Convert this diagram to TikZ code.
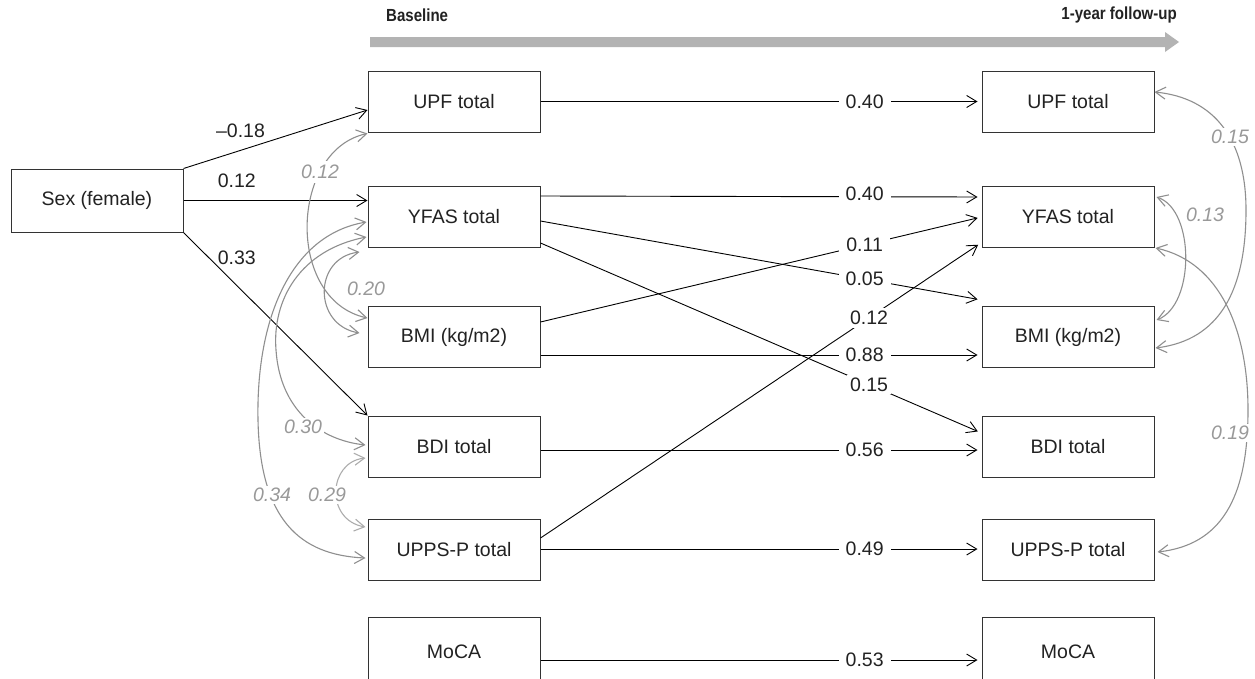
\documentclass[tikz,border=0pt]{standalone}
\usepackage{fontspec}
\setmainfont{Liberation Sans}
\newfontfamily\headfont[FakeStretch=0.86]{Liberation Sans}
\usetikzlibrary{arrows.meta,calc}
\definecolor{covc}{HTML}{8F8F8F}
\definecolor{covlc}{HTML}{ADADAD}
\definecolor{covtxt}{HTML}{999999}
\definecolor{boxc}{HTML}{333333}
\definecolor{barc}{HTML}{B3B3B3}
\definecolor{txtc}{HTML}{222222}
\begin{document}
\begin{tikzpicture}[x=1pt,y=-1pt,
  var/.style={draw=boxc, line width=1.0pt, minimum width=172pt, minimum height=61pt, inner sep=0pt,
    font=\fontsize{19.5}{23}\selectfont, text=txtc},
  regarrow/.style={draw=black, line width=0.9pt, -{Straight Barb[length=10pt,width=12pt]}},
  covarrow/.style={draw=covc, line width=1.1pt, {Straight Barb[length=10pt,width=12pt]}-{Straight Barb[length=10pt,width=12pt]}},
  coeff/.style={font=\fontsize{19.5}{23}\selectfont, text=txtc, inner sep=1pt},
  midcoeff/.style={coeff, fill=white, inner xsep=7pt, inner ysep=3pt},
  covlbl/.style={font=\fontsize{19.5}{23}\selectfont\itshape, text=covtxt, fill=white, inner sep=2pt},
  head/.style={font=\headfont\fontsize{17.5}{20}\selectfont\bfseries, text=txtc, inner sep=0pt}
]
\clip (0,0) rectangle (1255,678);
\fill[white] (0,0) rectangle (1255,678);

% time bar
\fill[barc] (370,37) -- (1165,37) -- (1165,32) -- (1179,42) -- (1165,52) -- (1165,47) -- (370,47) -- cycle;
\node[head, anchor=west] (base) at (386,15) {Baseline};
\node[head, anchor=east] (fup) at (1177,15) {1-year follow-up};

% nodes
\node[var, minimum height=63pt] (sex) at (97,200.5) {Sex (female)};
\node[var] (upfL) at (454,101.5) {UPF total};
\node[var] (yfasL) at (454,216.5) {YFAS total};
\node[var] (bmiL) at (454,337) {BMI (kg/m2)};
\node[var] (bdiL) at (454,446.5) {BDI total};
\node[var] (uppsL) at (454,550) {UPPS-P total};
\node[var, minimum height=70pt] (mocaL) at (454,652) {MoCA};
\node[var] (upfR) at (1068,101.5) {UPF total};
\node[var] (yfasR) at (1068,216.5) {YFAS total};
\node[var] (bmiR) at (1068,337) {BMI (kg/m2)};
\node[var] (bdiR) at (1068,446.5) {BDI total};
\node[var] (uppsR) at (1068,550) {UPPS-P total};
\node[var, minimum height=70pt] (mocaR) at (1068,652) {MoCA};

% sex effects
\draw[regarrow] (sex.north east) -- ($(upfL.west)+(0,8.5)$) node[coeff, pos=0.31, yshift=20pt] {–0.18};
\draw[regarrow] (sex.east) -- ($(yfasL.west)+(0,-16)$) node[coeff, pos=0.29, yshift=20pt] {0.12};
\draw[regarrow] (sex.south east) -- (bdiL.north west) node[coeff, pos=0.29, yshift=28pt] {0.33};

% cross-lagged / autoregressive paths
\draw[regarrow, shorten >=4pt] (upfL.east) -- (upfR.west) node[midcoeff, pos=0.735] {0.40};
\draw[regarrow, shorten >=4pt] ($(yfasL.east)+(0,-20.5)$) -- ($(yfasR.west)+(0,-19.5)$) node[midcoeff, pos=0.735, yshift=3pt] {0.40};
\draw[regarrow, shorten >=4pt] ($(yfasL.east)+(0,4.5)$) -- ($(bmiR.west)+(0,-37)$) node[midcoeff, pos=0.735] {0.05};
\draw[regarrow, shorten >=4pt] ($(yfasL.east)+(0,26.5)$) -- ($(bdiR.west)+(0,-13.5)$) node[midcoeff, pos=0.745, inner xsep=3pt] {0.15};
\draw[regarrow, shorten >=4pt] ($(bmiL.east)+(0,-15)$) -- ($(yfasR.west)+(0,0.5)$) node[midcoeff, pos=0.735] {0.11};
\draw[regarrow, shorten >=4pt] ($(bmiL.east)+(0,18)$) -- ($(bmiR.west)+(0,18)$) node[midcoeff, pos=0.735] {0.88};
\draw[regarrow, shorten >=4pt] ($(bdiL.east)+(0,3.5)$) -- ($(bdiR.west)+(0,3.5)$) node[midcoeff, pos=0.735] {0.56};
\draw[regarrow, shorten >=4pt] ($(uppsL.east)+(0,-12)$) -- ($(yfasR.west)+(0,26)$) node[midcoeff, pos=0.745, inner xsep=3pt] {0.12};
\draw[regarrow, shorten >=4pt] ($(uppsL.east)+(0,-1)$) -- ($(uppsR.west)+(0,-1)$) node[midcoeff, pos=0.735] {0.49};
\draw[regarrow, shorten >=4pt] ($(mocaL.east)+(0,8)$) -- ($(mocaR.west)+(0,8)$) node[midcoeff, pos=0.735] {0.53};

% baseline covariances
\draw[covarrow] ($(yfasL.west)+(-1,5.5)$) .. controls (290,235) and (256,320) .. (258,420)
  .. controls (260,520) and (300,555) .. ($(uppsL.west)+(-2,8)$);
\draw[covarrow] ($(yfasL.west)+(-1,20.5)$) .. controls (300,250) and (272,300) .. (276,350)
  .. controls (280,410) and (320,440) .. ($(bdiL.west)+(-2,-1.5)$);
\draw[covarrow] ($(yfasL.west)+(-8,35.5)$) .. controls (313,258) and (313,325) .. ($(bmiL.west)+(-8,-4)$);
\draw[covarrow] ($(upfL.south west)+(0,1)$) .. controls (290,150) and (285,300) .. ($(bmiL.west)+(0,-19)$);
\draw[covarrow, draw=covlc] ($(bdiL.west)+(-2,11.5)$) .. controls (328,462) and (325,520) .. ($(uppsL.west)+(-2,-23)$);
\node[covlbl, inner sep=4pt] (c012) at (320,172) {0.12};
\node[covlbl, fill=none] (c020) at (366,289) {0.20};
\node[covlbl] (c030) at (303,427) {0.30};
\node[covlbl] (c034) at (272,495) {0.34};
\node[covlbl] (c029) at (327,495) {0.29};

% follow-up covariances
\draw[covarrow] ($(upfR.east)+(0,-9.5)$) .. controls (1215,98) and (1246,140) .. (1246,210)
  .. controls (1246,290) and (1220,340) .. ($(bmiR.east)+(1,11)$);
\draw[covarrow] ($(yfasR.east)+(2,-19.5)$) .. controls (1195,210) and (1195,305) .. ($(bmiR.east)+(2,-17)$);
\draw[covarrow] ($(yfasR.east)+(1,31.5)$) .. controls (1220,262) and (1248,330) .. (1248,410)
  .. controls (1248,500) and (1220,545) .. ($(uppsR.east)+(3,2)$);
\node[covlbl] (c015) at (1230,137) {0.15};
\node[covlbl, fill=none] (c013) at (1205,215) {0.13};
\node[covlbl] (c019) at (1230,433) {0.19};
\end{tikzpicture}
\end{document}
